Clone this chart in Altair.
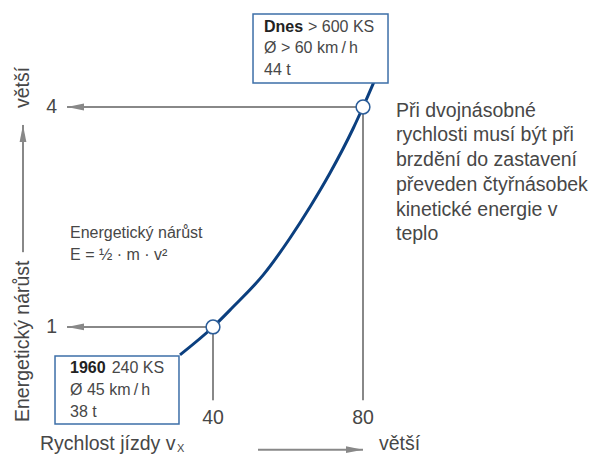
import altair as alt
import pandas as pd

# ---- data ----
# speed (km/h scale of the axis) and relative kinetic energy along the curve
curve_speed = [31.2, 40, 45.0, 53.4, 60.5, 65.9, 71.2, 77.4, 80, 82.9]
curve_energy = [0.62, 1.0, 1.255, 1.71, 2.21, 2.64, 3.10, 3.71, 4.0, 4.34]

marked_speed = [40, 80]
marked_energy = [1, 4]
x_tick_labels = ["40", "80"]
y_tick_labels = ["1", "4"]

box_1960_bold = "1960"
box_1960_lines = ["240 KS", "Ø 45 km\u2009/\u2009h", "38 t"]
box_today_bold = "Dnes"
box_today_lines = ["> 600 KS", "Ø > 60 km\u2009/\u2009h", "44 t"]
formula_lines = ["Energetický nárůst", "E = ½ · m · v²"]
note_lines = ["Při dvojnásobné", "rychlosti musí být při", "brzdění do zastavení",
              "převeden čtyřnásobek", "kinetické energie v", "teplo"]
x_title = "Rychlost jízdy v"
x_title_sub = "X"
y_title = "Energetický nárůst"
more = "větší"

# ---- layout / style ----
W, H = 582, 447
XMIN, XMAX = -14.667, 140.533
YMIN, YMAX = -0.746, 5.35
FONT = "Liberation Sans"
TXT = "#474747"
GRAY = "#888888"
CURVE = "#0b3f7f"
BOXC = "#3d6fa8"
BIG = 19.5
SMALL = 16

xs = alt.Scale(domain=[XMIN, XMAX], nice=False, zero=False)
ys = alt.Scale(domain=[YMIN, YMAX], nice=False, zero=False)


def X(f="x"):
    return alt.X(f"{f}:Q", scale=xs, axis=None)


def Y(f="y"):
    return alt.Y(f"{f}:Q", scale=ys, axis=None)


ARROW_L = "M0,0L2,-0.4L2,0.4Z"
ARROW_R = "M0,0L-2,-0.4L-2,0.4Z"
ARROW_U = "M0,0L-0.4,2L0.4,2Z"
TIP_X = 1.07

layers = []

# guide lines from marked points to the axes
h_df = pd.DataFrame({"x": marked_speed, "x2": [TIP_X] * 2, "y": marked_energy})
layers.append(alt.Chart(h_df).mark_rule(color=GRAY, strokeWidth=2).encode(
    x=X(), x2="x2:Q", y=Y()))
v_df = pd.DataFrame({"x": marked_speed, "y": marked_energy, "y2": [0, 0]})
layers.append(alt.Chart(v_df).mark_rule(color=GRAY, strokeWidth=2).encode(
    x=X(), y=Y(), y2="y2:Q"))
layers.append(alt.Chart(pd.DataFrame({"x": [TIP_X] * 2, "y": marked_energy})).mark_point(
    shape=ARROW_L, filled=True, color=GRAY, opacity=1, size=289, strokeWidth=0).encode(x=X(), y=Y()))

# y "axis" arrow
layers.append(alt.Chart(pd.DataFrame({"x": [-10.67], "y": [2.02], "y2": [3.755]})).mark_rule(
    color=GRAY, strokeWidth=2).encode(x=X(), y=Y(), y2="y2:Q"))
layers.append(alt.Chart(pd.DataFrame({"x": [-10.67], "y": [3.755]})).mark_point(
    shape=ARROW_U, filled=True, color=GRAY, opacity=1, size=289, strokeWidth=0).encode(x=X(), y=Y()))

# x "axis" arrow
layers.append(alt.Chart(pd.DataFrame({"x": [52], "x2": [80], "y": [-0.674]})).mark_rule(
    color=GRAY, strokeWidth=2).encode(x=X(), x2="x2:Q", y=Y()))
layers.append(alt.Chart(pd.DataFrame({"x": [80], "y": [-0.674]})).mark_point(
    shape=ARROW_R, filled=True, color=GRAY, opacity=1, size=289, strokeWidth=0).encode(x=X(), y=Y()))

# curve
c_df = pd.DataFrame({"x": curve_speed, "y": curve_energy})
layers.append(alt.Chart(c_df).mark_line(color=CURVE, strokeWidth=3, interpolate="monotone").encode(
    x=X(), y=Y()))

# boxes
b_df = pd.DataFrame({"x": [-2.13, 50.67], "x2": [30.93, 86.67], "y": [0.604, 5.268], "y2": [-0.323, 4.327]})
layers.append(alt.Chart(b_df).mark_rect(fill="white", stroke=BOXC, strokeWidth=1.5).encode(
    x=X(), x2="x2:Q", y=Y(), y2="y2:Q"))

# marked points
layers.append(alt.Chart(pd.DataFrame({"x": marked_speed, "y": marked_energy})).mark_circle(
    size=190, fill="white", stroke="#2b5d99", strokeWidth=1.5, opacity=1).encode(x=X(), y=Y()))


def txt(x, y, text, size=BIG, color=TXT, weight="normal", align="left", baseline="alphabetic",
        angle=0, line_height=None):
    kw = dict(font=FONT, fontSize=size, color=color, fontWeight=weight, align=align,
              baseline=baseline, angle=angle)
    if line_height:
        kw.update(lineBreak="\n", lineHeight=line_height)
    df = pd.DataFrame({"x": x, "y": y, "t": text})
    return alt.Chart(df).mark_text(**kw).encode(x=X(), y=Y(), text="t:N")


# tick labels
layers.append(txt([-1.6] * 2, marked_energy, y_tick_labels, align="right", baseline="middle"))
layers.append(txt(marked_speed, [-0.245] * 2, x_tick_labels, align="center", baseline="middle"))

# box texts
layers.append(txt([1.87], [0.368], [box_1960_bold], size=SMALL, color="#222222", weight="bold"))
layers.append(txt([12.99], [0.368], [box_1960_lines[0]], size=SMALL))
layers.append(txt([1.87], [0.072], ["\n".join(box_1960_lines[1:])], size=SMALL, line_height=21.5))
layers.append(txt([53.6], [5.027], [box_today_bold], size=SMALL, color="#222222", weight="bold"))
layers.append(txt([65.33], [5.027], [box_today_lines[0]], size=SMALL))
layers.append(txt([53.6], [4.732], ["\n".join(box_today_lines[1:])], size=SMALL, line_height=21.2))

# formula
layers.append(txt([1.87], [2.22], ["\n".join(formula_lines)], size=SMALL, line_height=22.5))

# note on the right
layers.append(txt([88.8], [3.867], ["\n".join(note_lines)], line_height=24.7))

# axis titles
layers.append(txt([-6.13], [-0.677], [x_title]))
layers.append(txt([30.4], [-0.705], [x_title_sub], size=11))
layers.append(txt([84.27], [-0.677], [more]))
layers.append(txt([-10.67], [-0.296], [y_title], angle=270, baseline="middle"))
layers.append(txt([-10.67], [3.986], [more], angle=270, baseline="middle"))

chart = alt.layer(*layers).properties(
    width=W, height=H, padding=0, autosize=alt.AutoSizeParams(type="none")
).configure_view(stroke=None)

chart.save("out.html", embed_options={"renderer": "svg", "actions": False})
